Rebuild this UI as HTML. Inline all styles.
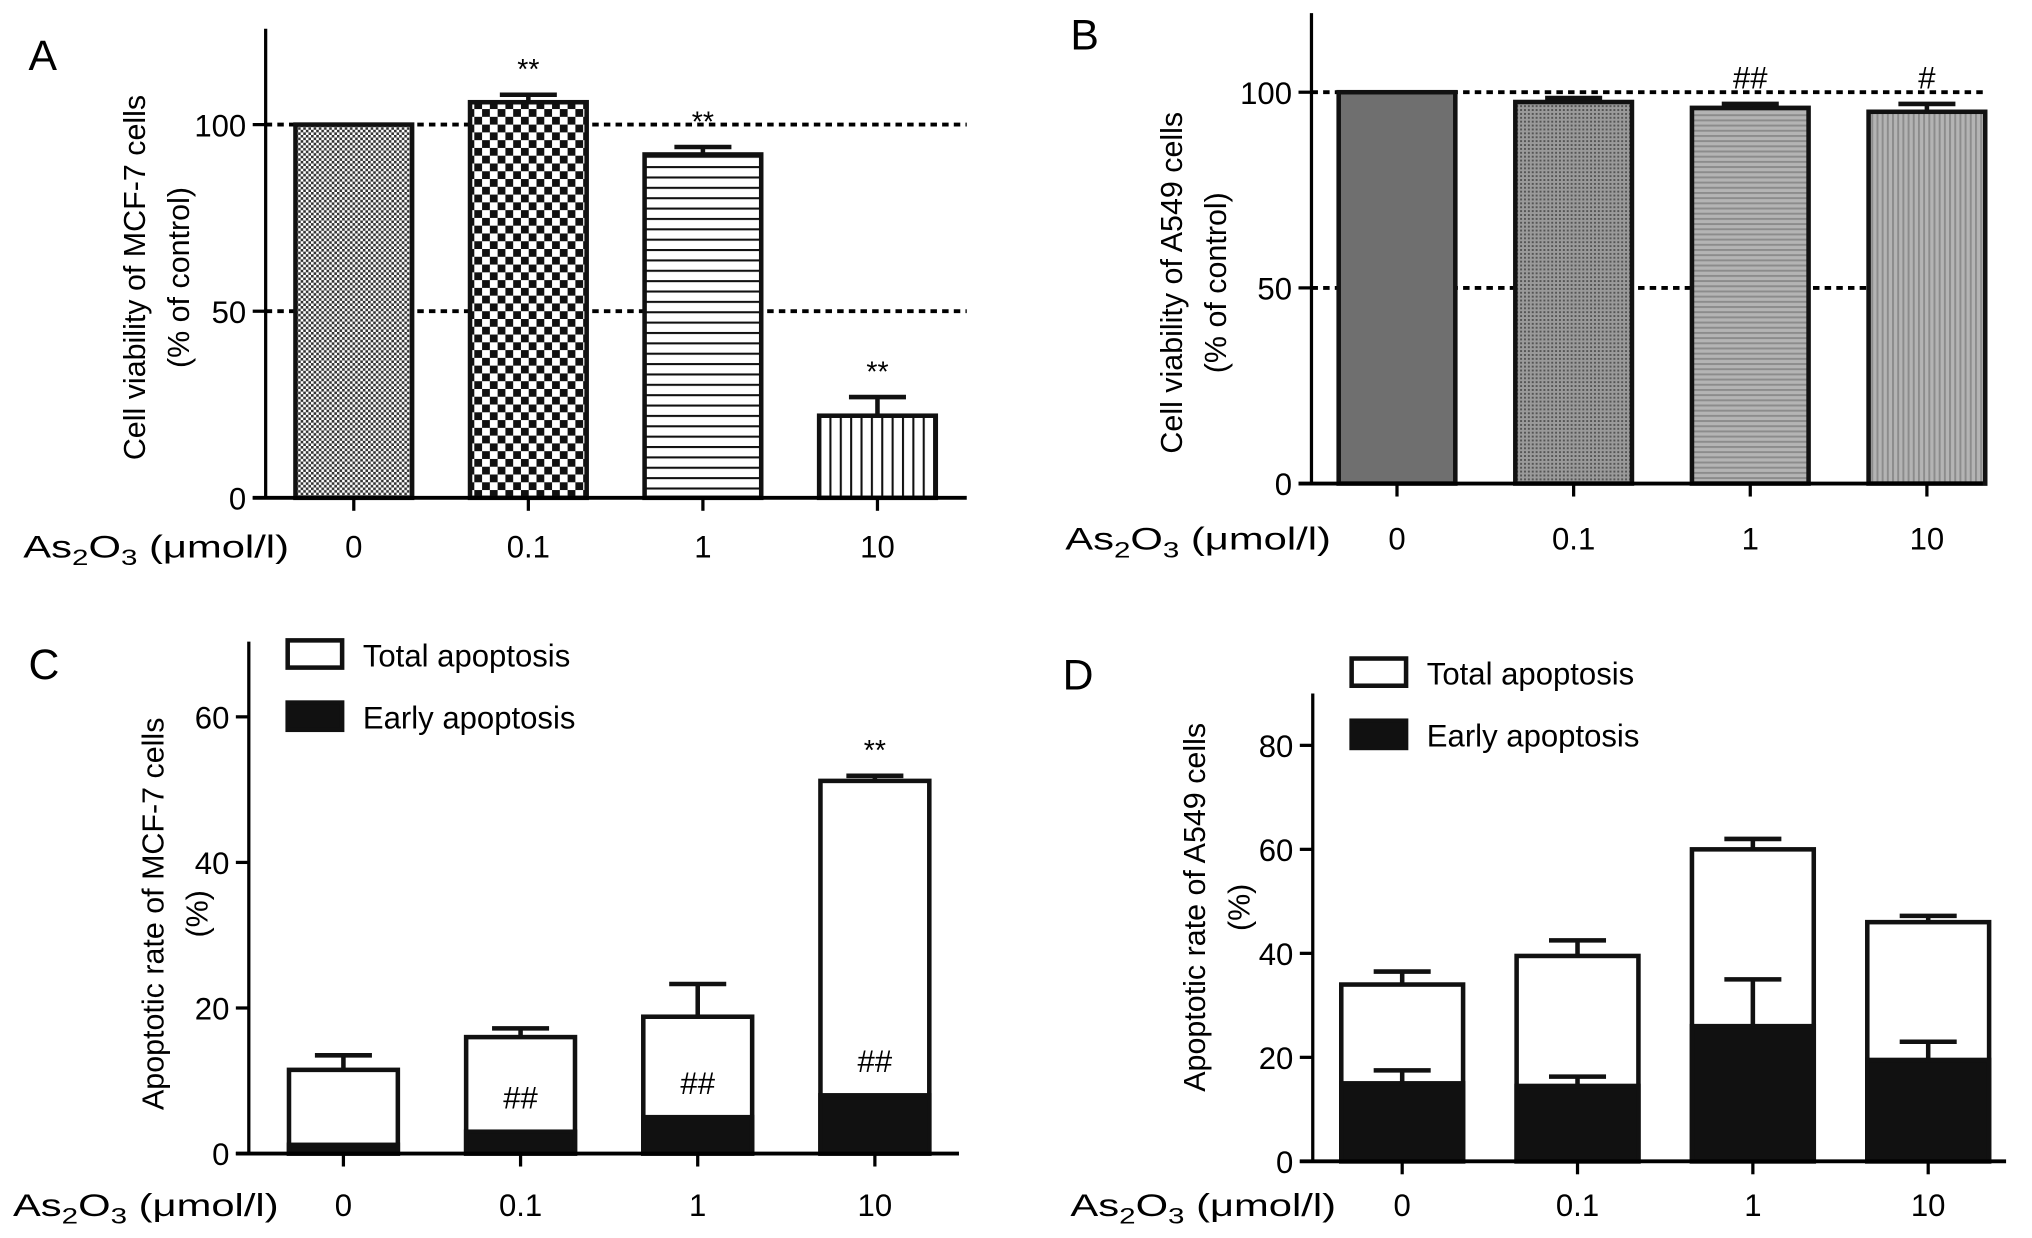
<!DOCTYPE html>
<html><head><meta charset="utf-8"><style>
html,body{margin:0;padding:0;background:#fff}
svg{display:block;font-family:"Liberation Sans",sans-serif}
</style></head><body>
<svg id="fig" width="2032" height="1238" viewBox="0 0 1568 955" xmlns="http://www.w3.org/2000/svg">
<defs>
<pattern id="pFine" width="4" height="4" patternUnits="userSpaceOnUse"><rect width="4" height="4" fill="#fff"/><rect width="2" height="2" fill="#333"/><rect x="2" y="2" width="2" height="2" fill="#333"/></pattern>
<pattern id="pCheck" width="12" height="12" patternUnits="userSpaceOnUse"><rect width="12" height="12" fill="#fff"/><rect width="6" height="6" fill="#111"/><rect x="6" y="6" width="6" height="6" fill="#111"/></pattern>
<pattern id="pHor" width="8" height="8" patternUnits="userSpaceOnUse"><rect width="8" height="8" fill="#fff"/><rect y="0" width="8" height="1.6" fill="#111"/></pattern>
<pattern id="pVer" width="8" height="8" patternUnits="userSpaceOnUse"><rect width="8" height="8" fill="#fff"/><rect x="0" width="1.6" height="8" fill="#111"/></pattern>
<pattern id="gDark" width="4" height="4" patternUnits="userSpaceOnUse"><rect width="4" height="4" fill="#6f6f6f"/></pattern>
<pattern id="gFine" width="3" height="3" patternUnits="userSpaceOnUse"><rect width="3" height="3" fill="#9a9a9a"/><rect width="1.5" height="1.5" fill="#555"/></pattern>
<pattern id="gHor" width="4" height="4" patternUnits="userSpaceOnUse"><rect width="4" height="4" fill="#b4b4b4"/><rect width="4" height="1.5" fill="#8c8c8c"/></pattern>
<pattern id="gVer" width="4" height="4" patternUnits="userSpaceOnUse"><rect width="4" height="4" fill="#b4b4b4"/><rect width="1.5" height="4" fill="#8c8c8c"/></pattern>
</defs>
</svg>
<script>
const doses = ["0","0.1","1","10"];
const aVals = [100, 106, 92, 22];
const aErr = [0, 2, 2, 5];
const aMarks = ["", "**", "**", "**"];
const bVals = [100, 97.5, 96, 95];
const bErr = [0, 1, 1, 2];
const bMarks = ["", "", "##", "#"];
const cTotal = [11.5, 16, 18.8, 51.2];
const cTotalErr = [2, 1.2, 4.5, 0.7];
const cEarly = [1.2, 3, 5, 8];
const cMarks = ["", "##", "##", "##"];
const cTopMarks = ["", "", "", "**"];
const dTotal = [34, 39.5, 60, 46];
const dTotalErr = [2.5, 3, 2, 1.2];
const dEarly = [15, 14.5, 26, 19.5];
const dEarlyErr = [2.5, 1.8, 9, 3.5];
const aTicks = [0, 50, 100];
const bTicks = [0, 50, 100];
const cTicks = [0, 20, 40, 60];
const dTicks = [0, 20, 40, 60, 80];

const NS = "http://www.w3.org/2000/svg";
const svg = document.getElementById("fig");
function mk(tag, attrs, parent, text){
  const e = document.createElementNS(NS, tag);
  for (const k in attrs) e.setAttribute(k, attrs[k]);
  if (text !== undefined) e.textContent = text;
  (parent || svg).appendChild(e);
  return e;
}
function axisLabel(x, y, g){
  const t = mk("text", {x:x, y:y, "font-size":24, "textLength":205, "lengthAdjust":"spacingAndGlyphs"}, g);
  
  
  t.appendChild(document.createTextNode("As"));
  const s1 = document.createElementNS(NS,"tspan"); s1.setAttribute("font-size","17"); s1.setAttribute("dy","6"); s1.textContent="2"; t.appendChild(s1);
  const s2 = document.createElementNS(NS,"tspan"); s2.setAttribute("dy","-6"); s2.textContent="O"; t.appendChild(s2);
  const s3 = document.createElementNS(NS,"tspan"); s3.setAttribute("font-size","17"); s3.setAttribute("dy","6"); s3.textContent="3"; t.appendChild(s3);
  const s4 = document.createElementNS(NS,"tspan"); s4.setAttribute("dy","-6"); s4.textContent=" (\u03bcmol/l)"; t.appendChild(s4);
}
function panel(cfg){
  const g = mk("g", {});
  
  
  const yS = v => cfg.y0 - (v / cfg.yMax) * (cfg.y0 - cfg.yTop);
  const xS = i => cfg.x1 + i * cfg.step;
  const L = mk("text", {x:cfg.letter[0], y:cfg.letter[1], "font-size":33}, g, cfg.letterText);
  
  
  (cfg.refs||[]).forEach(r=>{
    const l = mk("line",{x1:cfg.ax, x2:cfg.xEnd, y1:yS(r), y2:yS(r), stroke:"#000","stroke-width":3,"stroke-dasharray":"5 4"}, g);
    
    
  });
  cfg.vals.forEach((v,i)=>{
    const cx = xS(i), w = cfg.bw;
    const b = mk("rect",{x:cx-w/2, y:yS(v), width:w, height:cfg.y0-yS(v), fill:cfg.fills ? cfg.fills[i] : "#fff", stroke:"#111","stroke-width":3.5}, g);
    
    
    if (cfg.err[i] > 0){
      const e = mk("path",{d:`M${cx},${yS(v)} V${yS(v+cfg.err[i])} M${cx-22},${yS(v+cfg.err[i])} H${cx+22}`, stroke:"#111","stroke-width":3.5, fill:"none"}, g);
      
      
    }
    if (cfg.early){
      const ev = cfg.early[i];
      const eb = mk("rect",{x:cx-w/2, y:yS(ev), width:w, height:cfg.y0-yS(ev), fill:"#111", stroke:"#111","stroke-width":3.5}, g);
      
      
      if (cfg.earlyErr){
        const ee = mk("path",{d:`M${cx},${yS(ev)} V${yS(ev+cfg.earlyErr[i])} M${cx-22},${yS(ev+cfg.earlyErr[i])} H${cx+22}`, stroke:"#111","stroke-width":3.5, fill:"none"}, g);
        
        
      }
    }
    if (cfg.marks && cfg.marks[i]){
      const m = mk("text",{x:cx, y:yS(v+cfg.err[i]) - 12, "font-size":cfg.marks[i]==="**"?22:24, "text-anchor":"middle"}, g, cfg.marks[i]);
      
      
    }
    if (cfg.inMarks && cfg.inMarks[i]){
      const m = mk("text",{x:cx, y:yS(cfg.early[i]) - 18, "font-size":24, "text-anchor":"middle"}, g, cfg.inMarks[i]);
      
      
    }
    const t = mk("line",{x1:cx,x2:cx,y1:cfg.y0,y2:cfg.y0+10,stroke:"#000","stroke-width":2.5}, g);
    
    
    const tl = mk("text",{x:cx, y:cfg.xLabY, "font-size":24, "text-anchor":"middle"}, g, doses[i]);
    
    
  });
  const ya = mk("line",{x1:cfg.ax,x2:cfg.ax,y1:cfg.axTop,y2:cfg.y0,stroke:"#000","stroke-width":2.5}, g);
  
  
  const xa = mk("line",{x1:cfg.ax-10,x2:cfg.xEnd,y1:cfg.y0,y2:cfg.y0,stroke:"#000","stroke-width":3}, g);
  
  
  cfg.ticks.forEach(tv=>{
    const t = mk("line",{x1:cfg.ax-10,x2:cfg.ax,y1:yS(tv),y2:yS(tv),stroke:"#000","stroke-width":2.5}, g);
    
    
    const tl = mk("text",{x:cfg.ax-15, y:yS(tv)+9, "font-size":24, "text-anchor":"end"}, g, String(tv));
    
    
  });
  const yt = mk("text",{transform:`translate(${cfg.yt[0]},${cfg.yt[1]}) rotate(-90)`, "font-size":23.5, "text-anchor":"middle"}, g);
  
  
  mk("tspan",{x:0,y:0}, yt, cfg.ytitle[0]);
  mk("tspan",{x:0,y:34}, yt, cfg.ytitle[1]);
  axisLabel(cfg.xt[0], cfg.xt[1], g);
  if (cfg.legend){
    const [lx, ly] = cfg.legend;
    const e1 = mk("rect",{x:lx,y:ly,width:42,height:21,fill:"#fff",stroke:"#111","stroke-width":3.5}, g);
    
    
    const t1 = mk("text",{x:lx+58,y:ly+20,"font-size":24}, g, "Total apoptosis");
    
    
    const e2 = mk("rect",{x:lx,y:ly+48,width:42,height:21,fill:"#111",stroke:"#111","stroke-width":3.5}, g);
    
    
    const t2 = mk("text",{x:lx+58,y:ly+68,"font-size":24}, g, "Early apoptosis");
    
    
  }
}
panel({name:"panel-a", letterText:"A", letter:[22,54], ax:205, axTop:22, y0:384, yTop:96, yMax:100, x1:273, step:134.7, bw:90, xEnd:746,
  vals:aVals, err:aErr, marks:aMarks, fills:["url(#pFine)","url(#pCheck)","url(#pHor)","url(#pVer)"], refs:[50,100], ticks:aTicks,
  xLabY:430, xt:[18,430], yt:[112,214], ytitle:["Cell viability of MCF-7 cells","(% of control)"]});
panel({name:"panel-b", letterText:"B", letter:[826,38], ax:1012, axTop:10, y0:373, yTop:71, yMax:100, x1:1078, step:136.3, bw:90, xEnd:1530,
  vals:bVals, err:bErr, marks:bMarks, fills:["url(#gDark)","url(#gFine)","url(#gHor)","url(#gVer)"], refs:[50,100], ticks:bTicks,
  xLabY:424, xt:[822,424], yt:[912,218], ytitle:["Cell viability of A549 cells","(% of control)"]});
panel({name:"panel-c", letterText:"C", letter:[22,524], ax:192, axTop:495, y0:890, yTop:553, yMax:60, x1:265, step:136.7, bw:84, xEnd:740,
  vals:cTotal, err:cTotalErr, marks:cTopMarks, early:cEarly, inMarks:cMarks, ticks:cTicks, legend:[222,494],
  xLabY:938, xt:[10,938], yt:[126,705], ytitle:["Apoptotic rate of MCF-7 cells","(%)"]});
panel({name:"panel-d", letterText:"D", letter:[820,532], ax:1013, axTop:535, y0:896, yTop:575, yMax:80, x1:1082, step:135.3, bw:94, xEnd:1548,
  vals:dTotal, err:dTotalErr, early:dEarly, earlyErr:dEarlyErr, ticks:dTicks, legend:[1043,508],
  xLabY:938, xt:[826,938], yt:[930,700], ytitle:["Apoptotic rate of A549 cells","(%)"]});
</script>
</body></html>
